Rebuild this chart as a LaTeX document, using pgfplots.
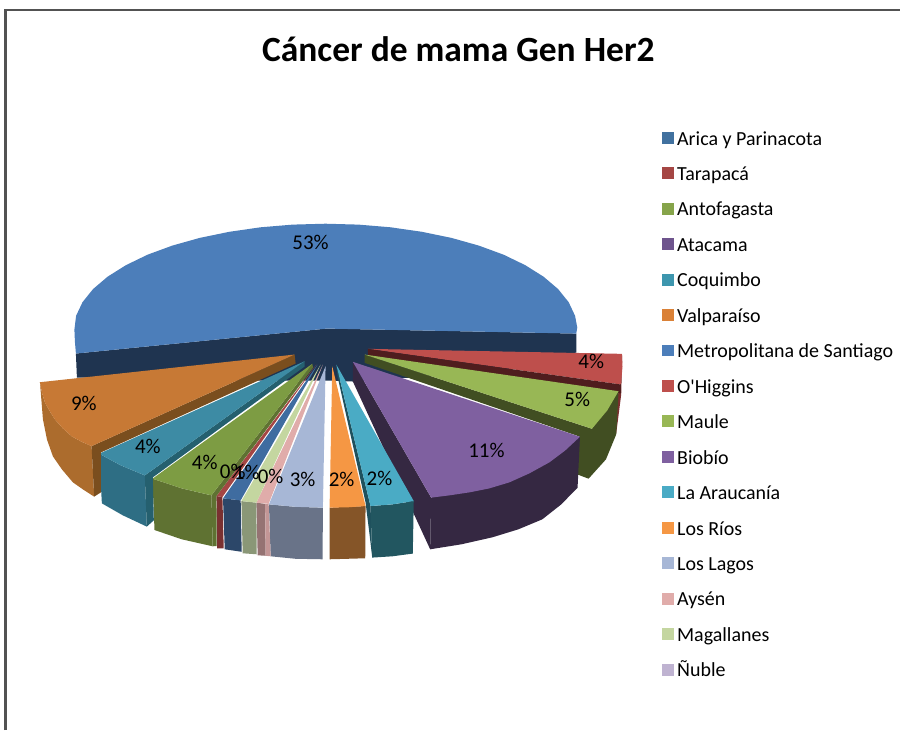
\documentclass[border=0pt]{standalone}
\usepackage{fontspec}
\setmainfont{Carlito}
\newfontfamily\plainf{Carlito}
\usepackage{pgfplots}
\pgfplotsset{compat=1.18}
\definecolor{mBlue}{HTML}{4C7EBA}\definecolor{mNavy}{HTML}{1F3450}
\definecolor{hRed}{HTML}{BE4F4C}\definecolor{hBand}{HTML}{4F1D1E}\definecolor{hSide}{HTML}{7A2E2E}
\definecolor{uTop}{HTML}{98B755}\definecolor{uSide}{HTML}{414E22}
\definecolor{bTop}{HTML}{7F60A0}\definecolor{bSide}{HTML}{352842}
\definecolor{aTop}{HTML}{4AABC5}\definecolor{aSide}{HTML}{225660}\definecolor{aBand}{HTML}{1F515D}
\definecolor{rTop}{HTML}{F59744}\definecolor{rSide}{HTML}{855528}
\definecolor{lTop}{HTML}{A7B7D6}\definecolor{lSide}{HTML}{697388}
\definecolor{pTop}{HTML}{E0ACAA}\definecolor{pSide}{HTML}{957373}\definecolor{pBand}{HTML}{C39696}
\definecolor{gTop}{HTML}{C4D6A0}\definecolor{gSide}{HTML}{8A9777}
\definecolor{iTop}{HTML}{3F6CA0}\definecolor{iSide}{HTML}{2C4769}
\definecolor{tTop}{HTML}{A54644}\definecolor{tSide}{HTML}{7A3131}
\definecolor{fTop}{HTML}{7D9C43}\definecolor{fSide}{HTML}{5F7232}
\definecolor{cTop}{HTML}{3D8BA4}\definecolor{cSide}{HTML}{2E6E84}\definecolor{cBand}{HTML}{25606F}
\definecolor{vTop}{HTML}{C77935}\definecolor{vSide}{HTML}{AC6C2D}\definecolor{vBand}{HTML}{7A4E1E}
\definecolor{legA}{HTML}{41719F}\definecolor{legF}{HTML}{86A44A}\definecolor{legB}{HTML}{6E548D}
\definecolor{legC}{HTML}{3D96AE}\definecolor{legV}{HTML}{DA8137}\definecolor{legN}{HTML}{BFB3D1}
\begin{document}
\begin{tikzpicture}
\begin{axis}[
  scale only axis, width=901pt, height=731pt,
  xmin=0, xmax=901, ymin=0, ymax=731, y dir=reverse,
  hide axis, clip=false,
  legend image code/.code={\path[#1] (0pt,-6pt) rectangle (12pt,6pt);},
  legend cell align=left,
  legend style={at={(axis cs:660,118)}, anchor=north west, draw=none, fill=none,
    font=\fontsize{20}{20}\selectfont, row sep=0pt,
    nodes={text height=25pt, text depth=10.5pt, inner sep=0pt, outer sep=0pt, inner xsep=2.8pt}},
]
% page extent
\addplot[draw=none,forget plot] coordinates {(0,0)(901,731)};
% frame
\addplot[draw=black!68, line width=2.3pt, forget plot] coordinates {(5.5,731) (5.5,10) (901,10)};
% Metropolitana
\addplot[fill=mNavy,draw=none,forget plot] coordinates {(76,354)(327,329)(577,334)(577,353)(500,372)(353,382)(327,381)(200,381)(77,378)};
\addplot[fill=mBlue,draw=none,forget plot] coordinates {(327,329)(577,334)(578,328)(575.8,316.2)(569.4,302.6)(558.8,289.4)(544.2,277)(525.9,265.5)(504.2,255)(479.4,245.9)(452,238.2)(422.4,232.1)(391.2,227.6)(358.9,224.9)(326,224)(293.1,224.9)(260.8,227.6)(229.6,232.1)(200,238.2)(172.6,245.9)(147.8,255)(126.1,265.5)(107.8,277)(93.2,289.4)(82.6,302.6)(76.2,316.2)(74.5,330)(75,342)(76,354)};
% O'Higgins
\addplot[fill=hSide,draw=none,forget plot] coordinates {(621,385)(623,355)(622,395)(617,434)(610,434)};
\addplot[fill=hRed,draw=none,forget plot] coordinates {(368.3,349.3)(622.7,354.3)(623.3,367)(621.7,385)};
\addplot[fill=hBand,draw=none,forget plot] coordinates {(368.3,349.3)(621.7,385)(621.7,394)(368.3,358)};
% Maule
\addplot[fill=uSide,draw=none,forget plot] coordinates {(365,355)(592.7,429.3)(619.3,391.7)(617,435)(606.7,460)(589.3,479.3)(578,475)(580,437)(365,363.3)};
\addplot[fill=uTop,draw=none,forget plot] coordinates {(365,355)(619.3,391.7)(608,411)(592.7,429.3)};
% Biobio
\addplot[fill=bSide,draw=none,forget plot] coordinates {(353.3,362.3)(431.7,498.3)(430.7,550)(353.3,382)};
\addplot[fill=bSide,draw=none,forget plot] coordinates {(431.7,498.3)(580.7,437.3)(578.3,488.3)(562,505)(543,520)(519,530)(493,538)(462,545)(430.7,550)};
\addplot[fill=bTop,draw=none,forget plot] coordinates {(353.3,362.3)(580.7,437.3)(566,451)(550,463)(530,474)(510,483)(490,489)(470,493)(450,496)(431.7,498.3)};
% La Araucania
\addplot[fill=aBand,draw=none,forget plot] coordinates {(336.7,365)(371,506.7)(372.7,558.3)(370,535)(366,503)(338,377)};
\addplot[fill=aSide,draw=none,forget plot] coordinates {(371,506.7)(393,505)(414.3,501.7)(413.3,554.3)(393,557)(372.7,558.3)};
\addplot[fill=aTop,draw=none,forget plot] coordinates {(336.7,365)(414.3,501.7)(393,505)(371,506.7)};
% Los Rios
\addplot[fill=rSide,draw=none,forget plot] coordinates {(330,508.3)(366,506.7)(365.7,559)(330,560)};
\addplot[fill=rTop,draw=none,forget plot] coordinates {(332.7,366.7)(366,506.7)(348,508)(330,508.3)};
% Los Lagos
\addplot[fill=lSide,draw=none,forget plot] coordinates {(269.3,505)(296,507.5)(323.3,508.3)(323,560)(296,559.5)(271,557)};
\addplot[fill=lTop,draw=none,forget plot] coordinates {(326,366.7)(323.3,508.3)(296,507.5)(269.3,505)};
% Aysen
\addplot[fill=pSide,draw=none,forget plot] coordinates {(256.7,503.3)(265.5,504.5)(266,556.5)(258,556)};
\addplot[fill=pBand,draw=none,forget plot] coordinates {(265.5,504.5)(269,504.5)(271,557)(266,556.5)};
\addplot[fill=pTop,draw=none,forget plot] coordinates {(323.3,365)(269,504.5)(256.7,503.3)};
% Magallanes
\addplot[fill=gSide,draw=none,forget plot] coordinates {(241.7,501.7)(256.7,503.3)(257,555)(243,554)};
\addplot[fill=gTop,draw=none,forget plot] coordinates {(321,365)(256.7,503.3)(241.7,501.7)};
% Arica
\addplot[fill=iSide,draw=none,forget plot] coordinates {(223.3,499)(241,501)(242,552.5)(225,550)};
\addplot[fill=iTop,draw=none,forget plot] coordinates {(318,365)(241,501)(223.3,499)};
% Tarapaca
\addplot[fill=tSide,draw=none,forget plot] coordinates {(216.7,496.7)(222.7,497.7)(224,549)(217.5,549)};
\addplot[fill=tTop,draw=none,forget plot] coordinates {(316.7,365)(222.7,497.7)(216.7,496.7)};
% Antofagasta
\addplot[fill=fSide,draw=none,forget plot] coordinates {(152.7,479.3)(182,489)(211.7,496)(213,547)(182,540)(154.7,530.7)};
\addplot[fill=fSide,draw=none,forget plot] coordinates {(211.7,496)(312.7,364.3)(313.5,368)(216.7,496.7)(217,546.7)(213,547)};
\addplot[fill=fTop,draw=none,forget plot] coordinates {(312.7,364.3)(211.7,496)(182,489)(152.7,479.3)};
% Coquimbo
\addplot[fill=cSide,draw=none,forget plot] coordinates {(99.3,454.3)(121,466)(145,476)(147,527.3)(123,516)(102,504)};
\addplot[fill=cBand,draw=none,forget plot] coordinates {(145,476)(305,361.7)(305,367)(153,478)(154,521)(147,527.3)};
\addplot[fill=cTop,draw=none,forget plot] coordinates {(305,361.7)(145,476)(121,466)(99.3,454.3)};
% Valparaiso
\addplot[fill=vSide,draw=none,forget plot] coordinates {(40,382.7)(42,393)(45,403)(50,412)(55,420)(63,429)(72,437)(81,442)(91.7,446.7)(94.3,497.3)(83,490)(73,483)(62,470)(53,457)(47,440)(43,420)};
\addplot[fill=vBand,draw=none,forget plot] coordinates {(91.7,446.7)(295,355)(296,364)(101,453)(101,493)(94.3,497.3)};
\addplot[fill=vTop,draw=none,forget plot] coordinates {(295,355)(91.7,446.7)(81,442)(72,437)(63,429)(55,420)(50,412)(45,403)(42,393)(40,382.7)};
% legend
\addlegendimage{fill=legA,draw=none}\addlegendentry{Arica y Parinacota}
\addlegendimage{fill=tTop,draw=none}\addlegendentry{Tarapacá}
\addlegendimage{fill=legF,draw=none}\addlegendentry{Antofagasta}
\addlegendimage{fill=legB,draw=none}\addlegendentry{Atacama}
\addlegendimage{fill=legC,draw=none}\addlegendentry{Coquimbo}
\addlegendimage{fill=legV,draw=none}\addlegendentry{Valparaíso}
\addlegendimage{fill=mBlue,draw=none}\addlegendentry{Metropolitana de Santiago}
\addlegendimage{fill=hRed,draw=none}\addlegendentry{{\plainf O'Higgins}}
\addlegendimage{fill=uTop,draw=none}\addlegendentry{Maule}
\addlegendimage{fill=bTop,draw=none}\addlegendentry{Biobío}
\addlegendimage{fill=aTop,draw=none}\addlegendentry{La Araucanía}
\addlegendimage{fill=rTop,draw=none}\addlegendentry{Los Ríos}
\addlegendimage{fill=lTop,draw=none}\addlegendentry{Los Lagos}
\addlegendimage{fill=pTop,draw=none}\addlegendentry{Aysén}
\addlegendimage{fill=gTop,draw=none}\addlegendentry{Magallanes}
\addlegendimage{fill=legN,draw=none}\addlegendentry{Ñuble}
% labels
\node at (axis cs:459,49) {\fontsize{35.5}{36}\selectfont\bfseries Cáncer de mama Gen Her2};
\begingroup
\def\pl#1#2#3{\node[font=\fontsize{21}{21}\selectfont] at (axis cs:#1,#2) {#3\%};}
\pl{311}{243}{53}
\pl{592}{362}{4}
\pl{578}{400}{5}
\pl{487}{451}{11}
\pl{380}{479}{2}
\pl{342}{480}{2}
\pl{303}{480}{3}
\pl{271}{477}{0}
\pl{247}{473}{1}
\pl{233}{472}{0}
\pl{205}{463}{4}
\pl{148}{447}{4}
\pl{84}{404}{9}
\endgroup
\end{axis}
\end{tikzpicture}
\end{document}
